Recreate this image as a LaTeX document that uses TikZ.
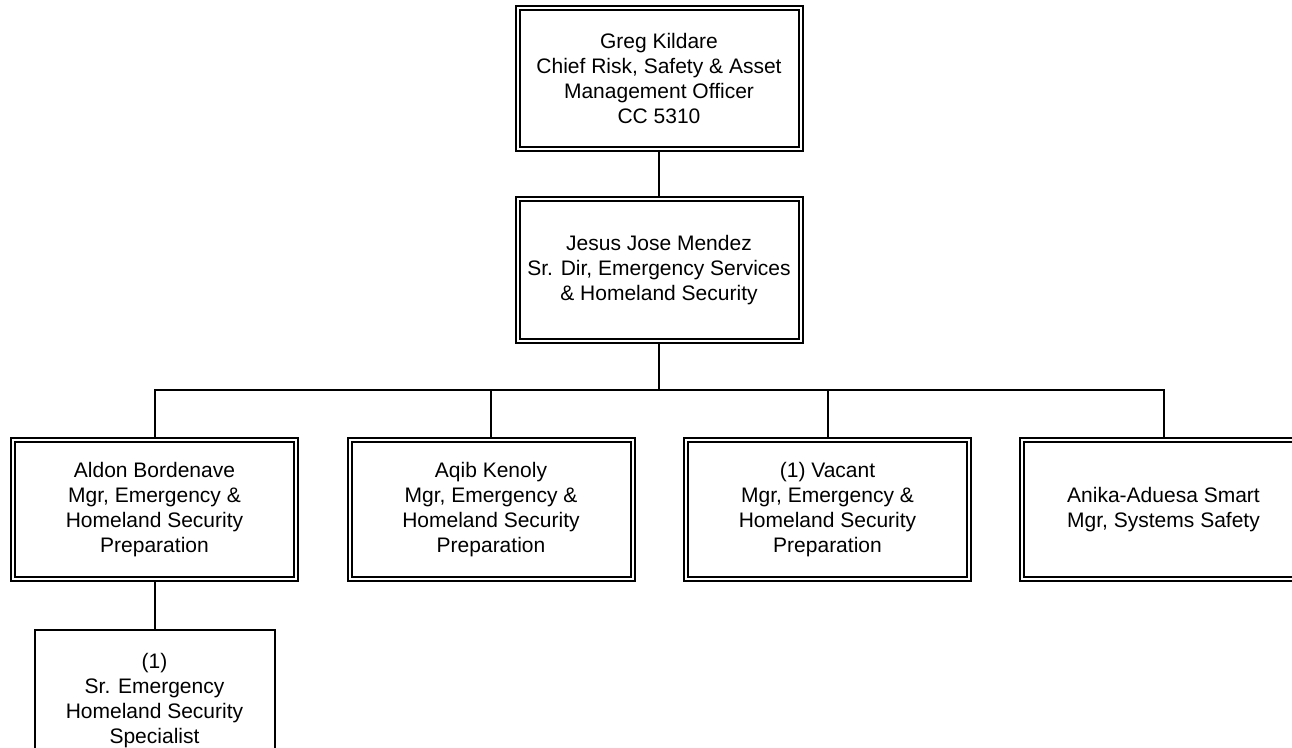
\documentclass[tikz,border=0pt]{standalone}
\usepackage{fontspec}
\setmainfont{Liberation Sans}
\begin{document}
\begin{tikzpicture}[x=1pt,y=-1pt,
  txt/.style={align=center, inner sep=0pt, text=black, font=\fontsize{21}{25}\selectfont},
  dbox/.style={txt, draw=black, double=white, double distance=2pt, line width=2pt, minimum width=283pt},
  sbox/.style={txt, draw=black, line width=2pt, minimum width=240pt, minimum height=141pt},
  conn/.style={draw=black, line width=2pt}]
\useasboundingbox (0,0) rectangle (1292,747);
\clip (0,0) rectangle (1292,747);
\fill[white] (0,0) rectangle (1292,747);

\node[dbox, minimum height=141pt] (top) at (659,78.5)
  {Greg Kildare\\Chief Risk, Safety \& Asset\\Management Officer\\CC 5310};
\node[dbox, minimum height=142.5pt] (mid) at (659,270)
  {Jesus Jose Mendez\\Sr. Dir, Emergency Services\\\& Homeland Security};

\node[dbox, minimum height=139pt] (b1) at (154.5,509.5)
  {Aldon Bordenave\\Mgr, Emergency \&\\Homeland Security\\Preparation};
\node[dbox, minimum height=139pt] (b2) at (491,509.5)
  {Aqib Kenoly\\Mgr, Emergency \&\\Homeland Security\\Preparation};
\node[dbox, minimum height=139pt] (b3) at (827.5,509.5)
  {(1) Vacant\\Mgr, Emergency \&\\Homeland Security\\Preparation};
\node[dbox, minimum height=139pt] (b4) at (1163.5,509.5)
  {Anika-Aduesa Smart\\Mgr, Systems Safety};

\node[sbox] (spec) at (154.5,700.5)
  {(1)\\Sr. Emergency\\Homeland Security\\Specialist};

\coordinate (hub) at (659,390);
\draw[conn] (top.south) -- (mid.north);
\draw[conn] (mid.south) -- (hub);
\draw[conn] (hub) -| (b1.north);
\draw[conn] (hub) -| (b2.north);
\draw[conn] (hub) -| (b3.north);
\draw[conn] (hub) -| (b4.north);
\draw[conn] (b1.south) -- (spec.north);
\end{tikzpicture}
\end{document}
